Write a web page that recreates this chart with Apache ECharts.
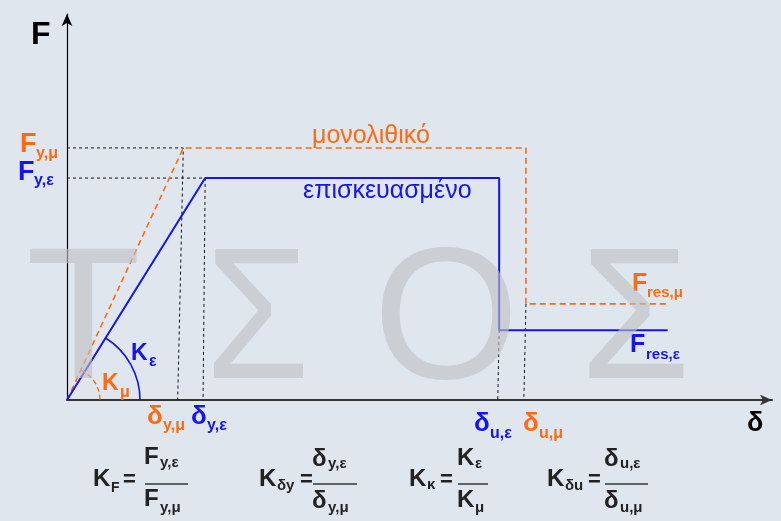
<!DOCTYPE html>
<html>
<head>
<meta charset="utf-8">
<script src="https://cdn.jsdelivr.net/npm/echarts@6/dist/echarts.min.js"></script>
<style>
  html, body { margin: 0; padding: 0; background: #dfe6ee; }
  #main { width: 781px; height: 521px; }
</style>
</head>
<body>
<div id="main"></div>
<script>
// force-displacement curves (arbitrary units, axes have no ticks)
const monoX = [0, 16.5, 65.1, 65.1, 85.2];   // μονολιθικό
const monoY = [0, 65.3, 65.3, 24.9, 24.9];
const repX = [0, 19.6, 61.3, 61.3, 85.2];    // επισκευασμένο
const repY = [0, 57.5, 57.5, 18.1, 18.1];
// where the dashed guides meet the δ axis
const guideBottomX = [15.7, 19.3, 61.1, 64.8];

const ORANGE = '#ff6a10';
const BLUE = '#1414f0';
const FONT = '"Liberation Sans", Arial, sans-serif';

const zip = (xs, ys) => xs.map((x, i) => [x, ys[i]]);

var myChart = echarts.init(document.getElementById('main'));

const guideStyle = { color: '#111', width: 1, type: [3, 3] };
const guide = (data) => ({
  type: 'line', data, symbol: 'none', silent: true, z: 1,
  lineStyle: guideStyle
});

myChart.setOption({
  backgroundColor: '#dfe6ee',
  animation: false,
  grid: { left: 67, right: 9, top: 14, bottom: 121 },
  xAxis: {
    type: 'value', min: 0, max: 100,
    axisLine: { show: true, symbol: ['none', 'arrow'], symbolSize: [8, 12],
      lineStyle: { color: '#333', width: 2 } },
    axisTick: { show: false }, axisLabel: { show: false }, splitLine: { show: false }
  },
  yAxis: {
    type: 'value', min: 0, max: 100,
    axisLine: { show: true, symbol: ['none', 'arrow'], symbolSize: [8, 12],
      lineStyle: { color: '#000', width: 1.2 } },
    axisTick: { show: false }, axisLabel: { show: false }, splitLine: { show: false }
  },
  series: [
    guide([[0, monoY[1]], [monoX[1], monoY[1]], [guideBottomX[0], 0]]),
    guide([[0, repY[1]], [repX[1], repY[1]], [guideBottomX[1], 0]]),
    guide([[repX[3], repY[3]], [guideBottomX[2], 0]]),
    guide([[monoX[3], monoY[3]], [guideBottomX[3], 0]]),
    {
      name: 'μονολιθικό', type: 'line', data: zip(monoX, monoY), symbol: 'none', z: 3,
      lineStyle: { color: ORANGE, width: 1.6, type: [6, 4] }
    },
    {
      name: 'επισκευασμένο', type: 'line', data: zip(repX, repY), symbol: 'none', z: 4,
      lineStyle: { color: BLUE, width: 2 }
    }
  ]
});

// text placed by baseline
function t(str, x, base, size, color, bold) {
  return {
    type: 'text', x: x, y: base - 0.31 * size, z: 50,
    style: {
      text: str, fill: color, verticalAlign: 'middle', align: 'left',
      font: (bold ? 'bold ' : '') + size + 'px ' + FONT
    }
  };
}
function bar(x1, x2, y) {
  return { type: 'line', z: 50, shape: { x1: x1, y1: y, x2: x2, y2: y },
    style: { stroke: '#333', lineWidth: 1.5 } };
}
function water(ch, x, sx) {
  return {
    type: 'text', x: x, y: 384 - 0.31 * 188, z: 100, silent: true,
    scaleX: sx || 1,
    style: { text: ch, fill: 'rgba(190,192,195,0.62)', verticalAlign: 'middle',
      font: '188px ' + FONT }
  };
}

const o = myChart.convertToPixel('grid', [0, 0]);
const pr = myChart.convertToPixel('grid', [repX[1], repY[1]]);
const pm = myChart.convertToPixel('grid', [monoX[1], monoY[1]]);
const angR = Math.atan2(pr[1] - o[1], pr[0] - o[0]);
const angM = Math.atan2(pm[1] - o[1], pm[0] - o[0]);

const K = '#222';
myChart.setOption({
  graphic: [
    { type: 'arc', z: 5, shape: { cx: o[0], cy: o[1], r: 73, startAngle: angR, endAngle: 0, clockwise: true },
      style: { stroke: BLUE, fill: 'none', lineWidth: 1.6 } },
    { type: 'arc', z: 5, shape: { cx: o[0], cy: o[1], r: 33, startAngle: angM, endAngle: 0, clockwise: true },
      style: { stroke: ORANGE, fill: 'none', lineWidth: 1.4, lineDash: [5, 3] } },

    // axis names
    t('F', 31, 45, 32, '#000', true),
    t('δ', 747, 432, 27, '#000', true),

    // yield forces
    t('F', 20, 153, 27, ORANGE, true), t('y,μ', 36, 159, 16, ORANGE, true),
    t('F', 18, 181, 27, BLUE, true), t('y,ε', 34, 186, 16, BLUE, true),

    // curve names
    t('μονολιθικό', 312, 144, 25, ORANGE, false),
    t('επισκευασμένο', 303, 199, 25, BLUE, false),

    // stiffness
    t('K', 131, 361, 23, BLUE, true), t('ε', 149, 367, 16, BLUE, true),
    t('K', 102, 391, 23, ORANGE, true), t('μ', 120, 398, 16, ORANGE, true),

    // displacements
    t('δ', 147, 425, 26, ORANGE, true), t('y,μ', 163, 431, 16, ORANGE, true),
    t('δ', 191, 425, 26, BLUE, true), t('y,ε', 207, 431, 16, BLUE, true),
    t('δ', 474, 432, 26, BLUE, true), t('u,ε', 490, 439, 16, BLUE, true),
    t('δ', 523, 432, 26, ORANGE, true), t('u,μ', 539, 439, 16, ORANGE, true),

    // residual forces
    t('F', 632, 292, 25, ORANGE, true), t('res,μ', 647, 298, 15, ORANGE, true),
    t('F', 630, 353, 25, BLUE, true), t('res,ε', 646, 360, 15, BLUE, true),

    // formulas
    t('K', 93, 487, 24, K, true), t('F', 111, 492, 14, K, true), t('=', 123, 487, 22, K, true),
    t('F', 144, 465, 24, K, true), t('y,ε', 160, 468, 15, K, true), bar(145, 188, 484),
    t('F', 144, 507, 24, K, true), t('y,μ', 160, 513, 15, K, true),

    t('K', 259, 487, 24, K, true), t('δy', 277, 491, 15, K, true), t('=', 300, 487, 22, K, true),
    t('δ', 312, 467, 24, K, true), t('y,ε', 328, 469, 15, K, true), bar(313, 357, 484),
    t('δ', 312, 509, 24, K, true), t('y,μ', 328, 513, 15, K, true),

    t('K', 409, 487, 24, K, true), t('κ', 427, 490, 15, K, true), t('=', 440, 487, 22, K, true),
    t('K', 457, 466, 24, K, true), t('ε', 475, 469, 15, K, true), bar(458, 488, 484),
    t('K', 457, 508, 24, K, true), t('μ', 475, 513, 15, K, true),

    t('K', 547, 487, 24, K, true), t('δu', 565, 491, 15, K, true), t('=', 588, 487, 22, K, true),
    t('δ', 604, 467, 24, K, true), t('u,ε', 620, 469, 15, K, true), bar(605, 648, 484),
    t('δ', 604, 509, 24, K, true), t('u,μ', 620, 513, 15, K, true),

    // watermark
    water('Τ', 26), water('Σ', 205, 0.9), water('Ο', 373), water('Σ', 580, 0.95)
  ]
});
</script>
</body>
</html>
